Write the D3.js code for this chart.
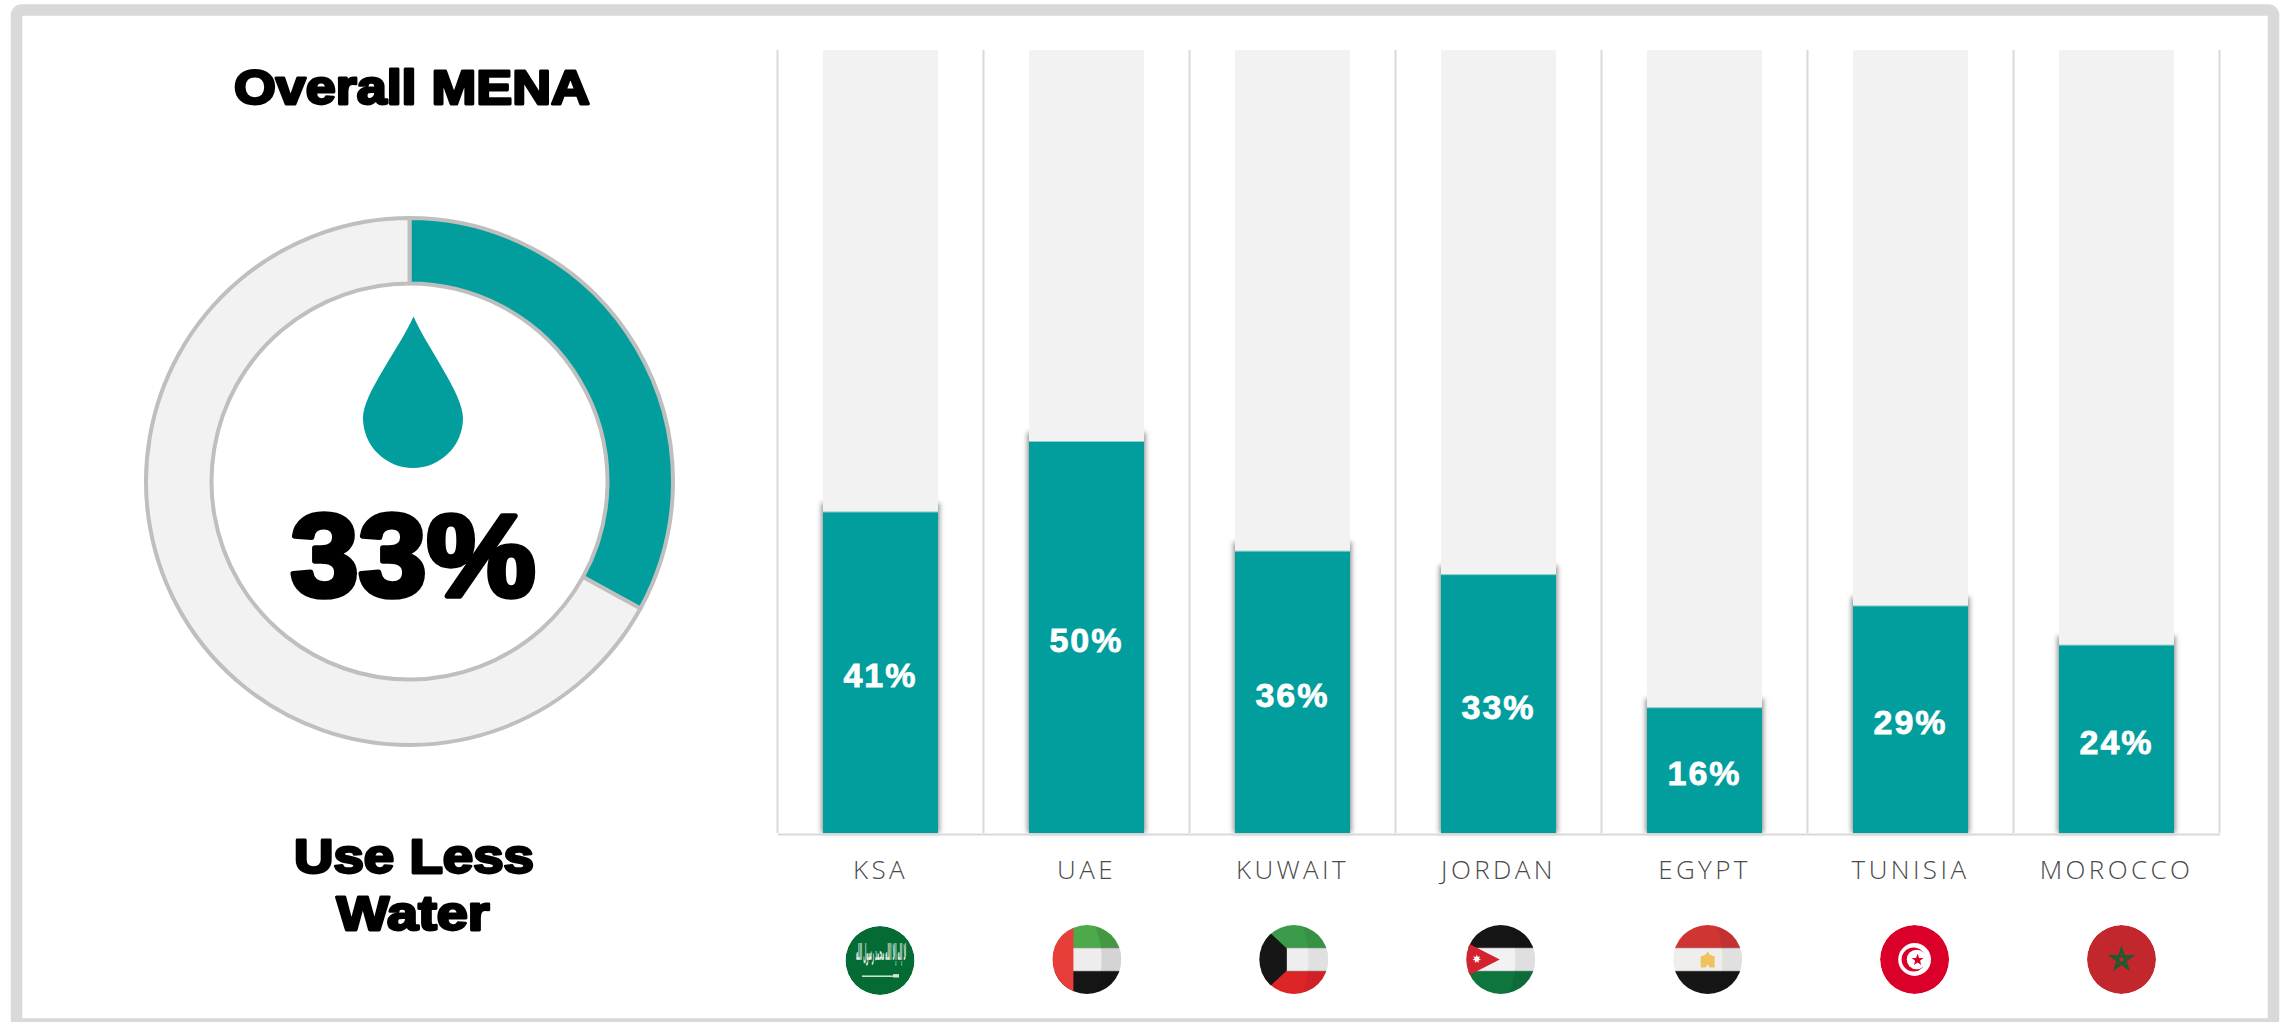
<!DOCTYPE html>
<html>
<head>
<meta charset="utf-8">
<script src="https://cdn.jsdelivr.net/npm/d3@7/dist/d3.min.js"></script>
<style>
html,body{margin:0;padding:0;background:#fff;overflow:hidden}
svg{display:block}
</style>
</head>
<body>
<svg id="chart" width="2287" height="1022"></svg>
<script>
// ---- data ----
const categories = ["KSA","UAE","KUWAIT","JORDAN","EGYPT","TUNISIA","MOROCCO"];
const barValues = [41,50,36,33,16,29,24];
const overallValue = 33;
const flagIds = ["ksa","uae","kuwait","jordan","egypt","tunisia","morocco"];

const TEAL="#029e9d", PALE="#f2f2f2", RIM="#bfbfbf", GRID="#d9d9d9";
const svg=d3.select("#chart");
const defs=svg.append("defs");

// frame
svg.append("rect").attr("x",16.5).attr("y",10).attr("width",2257).attr("height",1014)
  .attr("rx",5).attr("fill","#fff").attr("stroke","#d9d9d9").attr("stroke-width",11.5);

// ---- scales ----
const x=d3.scaleBand().domain(categories).range([777.5,2219.5]).paddingInner(0.4417).paddingOuter(0.2208);
const y=d3.scaleLinear().domain([0,100]).range([833,50]);
const flagX=d3.scalePoint().domain(categories).range([880,2121.5]);

// filters
const f=defs.append("filter").attr("id","soft").attr("x","-10%").attr("y","-10%").attr("width","120%").attr("height","120%");
f.append("feGaussianBlur").attr("stdDeviation",2.6);

// gridlines at band boundaries
const gridIdx=d3.range(categories.length+1);
svg.append("g").selectAll("line").data(gridIdx).join("line")
  .attr("x1",i=>x.range()[0]+i*x.step()).attr("x2",i=>x.range()[0]+i*x.step())
  .attr("y1",y(100)).attr("y2",y(0))
  .attr("stroke",GRID).attr("stroke-width",2);

// shadows behind teal bars
svg.append("g").attr("filter","url(#soft)").selectAll("rect").data(barValues).join("rect")
  .attr("x",(v,i)=>x(categories[i])-1.5).attr("width",x.bandwidth()+3)
  .attr("y",v=>y(v)-9).attr("height",v=>y(0)-y(v)+9)
  .attr("fill","#8f8f8f");

// pale track bars
svg.append("g").selectAll("rect").data(categories).join("rect")
  .attr("x",d=>x(d)).attr("width",x.bandwidth())
  .attr("y",y(100)).attr("height",y(0)-y(100)).attr("fill",PALE);

// value bars
svg.append("g").selectAll("rect").data(barValues).join("rect")
  .attr("x",(v,i)=>x(categories[i])).attr("width",x.bandwidth())
  .attr("y",v=>y(v)).attr("height",v=>y(0)-y(v))
  .attr("fill",TEAL);
svg.append("g").selectAll("line").data(barValues).join("line")
  .attr("x1",(v,i)=>x(categories[i])).attr("x2",(v,i)=>x(categories[i])+x.bandwidth())
  .attr("y1",v=>y(v)).attr("y2",v=>y(v))
  .attr("stroke","#8fcfce").attr("stroke-width",1);

// value labels
svg.append("g").selectAll("text").data(barValues).join("text")
  .attr("x",(v,i)=>x(categories[i])+x.bandwidth()/2)
  .attr("y",v=>y(v/2)+15)
  .attr("text-anchor","middle")
  .attr("font-family","'Liberation Sans',Arial,sans-serif").attr("font-weight",700)
  .attr("font-size",34).attr("letter-spacing",2)
  .attr("fill","#fff").attr("stroke","#fff").attr("stroke-width",0.8)
  .text(v=>v+"%");

// axis
const axis=svg.append("g").attr("transform","translate(0,834)")
  .call(d3.axisBottom(x).tickSize(0).tickPadding(27));
axis.select(".domain").attr("stroke",GRID).attr("stroke-width",2.2);
axis.selectAll("text")
  .attr("font-family","'Open Sans',sans-serif").attr("font-weight",300)
  .attr("font-size",26).attr("letter-spacing",3.4).attr("fill","#4a4a4a");

// ---- donut ----
const donut=svg.append("g").attr("transform","translate(409.5,481.5)");
const pie=d3.pie().sort(null)([overallValue,100-overallValue]);
const arc=d3.arc().innerRadius(198).outerRadius(263.5);
donut.selectAll("path").data(pie).join("path")
  .attr("d",arc)
  .attr("fill",(d,i)=>i===0?TEAL:PALE)
  .attr("stroke",RIM).attr("stroke-width",4).attr("stroke-linejoin","round");

// water drop
svg.append("path")
  .attr("d","M413.5,316.5 C428,349 463,394 463,418 A50,50 0 0 1 363,418 C363,394 399,349 413.5,316.5 Z")
  .attr("fill",TEAL);

// heavy headings
function heavy(txt,cx,base,size,len,sw){
  svg.append("text").attr("x",cx).attr("y",base).attr("text-anchor","middle")
    .attr("font-family","'Liberation Sans',Arial,sans-serif").attr("font-weight",700)
    .attr("font-size",size).attr("textLength",len).attr("lengthAdjust","spacingAndGlyphs")
    .attr("fill","#000").attr("stroke","#000").attr("stroke-width",sw).attr("stroke-linejoin","round")
    .text(txt);
}
heavy("Overall MENA",412,103.5,49,356,2.8);
heavy("Use Less",414,873,49,240,2.8);
heavy("Water",413,930,49,153,2.8);
heavy(overallValue+"%",413,596,117,245,5.5);

// ---- flags ----
const R=34.5;
defs.append("clipPath").attr("id","flagClip").append("circle").attr("r",R);
const flags=svg.append("g").selectAll("g").data(categories).join("g")
  .attr("transform",d=>`translate(${flagX(d)},${d==="KSA"?960.5:959.5})`)
  .attr("clip-path","url(#flagClip)");

function stripes(g,a,b,c){
  [[a,-R,-11.5],[b,-11.5,11.5],[c,11.5,R]].forEach(([col,t,bt])=>
    g.append("rect").attr("x",-R).attr("y",t).attr("width",2*R).attr("height",bt-t).attr("fill",col));
  [-11.5,11.5].forEach(v=>g.append("line").attr("x1",-R).attr("x2",R).attr("y1",v).attr("y2",v)
    .attr("stroke","#9a9a9a").attr("stroke-opacity",.6).attr("stroke-width",1));
}
function shade(g,o){
  g.append("path").attr("d",`M8,-${R} C17,-12 17,12 8,${R} L${R},${R} L${R},-${R} Z`)
    .attr("fill","#000").attr("opacity",o||.1);
}
function star(cxx,cyy,r,inner,n){
  const pts=[];
  for(let i=0;i<2*n;i++){const a=-Math.PI/2+i*Math.PI/n,rr=i%2?inner:r;pts.push([cxx+rr*Math.cos(a),cyy+rr*Math.sin(a)]);}
  return "M"+pts.map(p=>p.join(",")).join("L")+"Z";
}
const painters={
  ksa(g){
    g.append("circle").attr("r",R).attr("fill","#056b35");
    g.append("text").attr("x",1).attr("y",-1).attr("text-anchor","middle").attr("direction","rtl")
      .attr("font-family","'DejaVu Sans',sans-serif").attr("font-weight",700)
      .attr("font-size",22).attr("textLength",50).attr("lengthAdjust","spacingAndGlyphs")
      .attr("fill","#e6efe8").text("لا إله إلا الله محمد رسول الله");
    g.append("rect").attr("x",-18).attr("y",15).attr("width",32).attr("height",1.4).attr("fill","#e6efe8");
    g.append("rect").attr("x",13).attr("y",13.6).attr("width",6).attr("height",3.4).attr("fill","#d5e2d8");
  },
  uae(g){
    stripes(g,"#4caa4a","#eeeded","#161616"); shade(g,.1);
    g.append("rect").attr("x",-R).attr("y",-R).attr("width",R-13.5).attr("height",2*R).attr("fill","#e93d39");
  },
  kuwait(g){
    stripes(g,"#3a9b4a","#eeeeee","#dd2528"); shade(g,.06);
    g.append("path").attr("d","M-23,-26 L-7,-11 L-7,11 L-23,26 L-35,26 L-35,-26 Z").attr("fill","#161616");
  },
  jordan(g){
    stripes(g,"#161616","#f2f2f4","#0e753e"); shade(g,.08);
    g.append("path").attr("d","M-36,-18 L-1,0 L-36,18 Z").attr("fill","#d2232f");
    g.append("path").attr("d",star(-24,-0.5,4.4,2.2,7)).attr("fill","#fff");
  },
  egypt(g){
    stripes(g,"#cf3633","#efeeed","#161616"); shade(g,.06);
    g.append("path").attr("d","M0,-8 L2,-5 L7,-3 L7,8 L2,8 L0,5 L-2,8 L-7,8 L-7,-3 L-2,-5 Z").attr("fill","#eec35e");
  },
  tunisia(g){
    g.append("circle").attr("r",R).attr("fill","#da0029");
    g.append("circle").attr("r",16.4).attr("fill","#fff");
    g.append("circle").attr("cx",-1).attr("r",12).attr("fill","#da0029");
    g.append("circle").attr("cx",2).attr("r",9.8).attr("fill","#fff");
    g.append("path").attr("d",star(3,0.5,6.2,2.6,5)).attr("fill","#da0029");
  },
  morocco(g){
    g.append("circle").attr("r",R).attr("fill","#c1272d");
    const r=10.5,pts=d3.range(5).map(i=>{const a=-Math.PI/2+i*4*Math.PI/5;return [r*Math.cos(a),r*Math.sin(a)];});
    g.append("path").attr("d","M"+pts.map(p=>p.join(",")).join("L")+"Z")
      .attr("fill","none").attr("stroke","#1f5a2e").attr("stroke-width",2.4);
  }
};
flags.each(function(d,i){painters[flagIds[i]](d3.select(this));});
</script>
</body>
</html>
